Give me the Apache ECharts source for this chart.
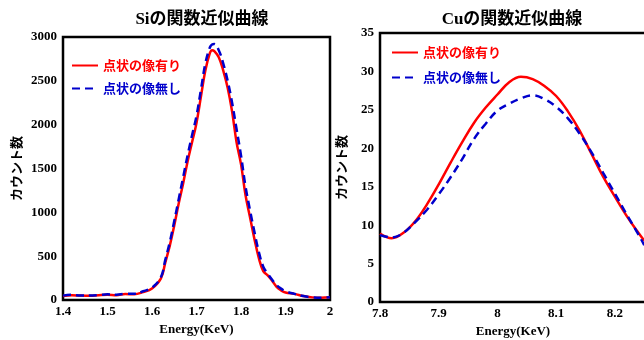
<!DOCTYPE html>
<html>
<head>
<meta charset="utf-8">
<script src="https://cdn.jsdelivr.net/npm/echarts@6/dist/echarts.min.js"></script>
<style>
  html, body { margin: 0; padding: 0; background: #fff; }
  #main { width: 644px; height: 340px; }
</style>
</head>
<body>
<div id="main"></div>
<script type="text/javascript">
// Si のデータ
var siEnergy = [1.40, 1.42, 1.44, 1.46, 1.48, 1.50, 1.52, 1.54, 1.56, 1.58, 1.60, 1.62, 1.63, 1.64, 1.65, 1.66, 1.67, 1.68, 1.69, 1.70,
                1.71, 1.72, 1.73, 1.735, 1.74, 1.75, 1.76, 1.77, 1.78, 1.79, 1.80, 1.81, 1.82, 1.83, 1.84, 1.85, 1.86, 1.87, 1.88, 1.89,
                1.90, 1.92, 1.94, 1.96, 1.98, 2.00];
var siWith    = [45, 55, 50, 48, 55, 60, 55, 68, 65, 90, 130, 245, 430, 620, 850, 1100, 1330, 1580, 1800, 2020,
                 2320, 2620, 2815, 2850, 2840, 2770, 2620, 2420, 2150, 1800, 1550, 1200, 950, 700, 480, 330, 280, 220, 150, 110,
                 85, 70, 45, 30, 25, 30];
var siWithout = [50, 60, 50, 52, 55, 65, 60, 70, 70, 100, 140, 260, 460, 660, 900, 1150, 1400, 1650, 1880, 2100,
                 2400, 2700, 2880, 2915, 2920, 2850, 2700, 2500, 2250, 1950, 1650, 1300, 1030, 780, 550, 380, 300, 230, 170, 130,
                 100, 70, 45, 30, 25, 30];

// Cu のデータ
var cuEnergy  = [7.80, 7.82, 7.84, 7.86, 7.88, 7.90, 7.92, 7.94, 7.96, 7.98, 8.00, 8.02, 8.04, 8.06, 8.08, 8.10, 8.12, 8.14, 8.16, 8.18, 8.20, 8.22, 8.24, 8.25];
var cuWith    = [8.9, 8.3, 9.0, 10.5, 12.7, 15.3, 18.1, 20.8, 23.3, 25.3, 27.0, 28.6, 29.3, 29.0, 28.1, 26.8, 24.8, 22.3, 19.3, 16.3, 13.7, 11.2, 9.0, 8.0];
var cuWithout = [8.7, 8.4, 9.0, 10.4, 12.0, 14.0, 16.2, 18.6, 21.2, 23.2, 24.9, 25.8, 26.5, 26.9, 26.4, 25.4, 23.9, 21.9, 19.5, 16.8, 14.1, 11.4, 8.8, 7.4];

var nameWith = '点状の像有り';
var nameWithout = '点状の像無し';

function pairs(xs, ys) {
    return xs.map(function (x, i) { return [x, ys[i]]; });
}

var serif = '"Liberation Serif", "Noto Sans CJK JP", serif';
var labelStyle = { color: '#000', fontFamily: serif, fontWeight: 'bold', fontSize: 13 };

function xAxisOf(idx, min, max, interval) {
    return {
        type: 'value', gridIndex: idx, min: min, max: max, interval: interval,
        name: 'Energy(KeV)', nameLocation: 'middle', nameGap: 21,
        nameTextStyle: { color: '#000', fontFamily: serif, fontWeight: 'bold', fontSize: 13 },
        axisLine: { show: false }, axisTick: { show: false }, splitLine: { show: false },
        axisLabel: Object.assign({
            margin: 5,
            formatter: function (v) {
                var r = Math.round(v * 10) / 10;
                return Math.abs(r - v) < 1e-6 ? String(r) : '';
            }
        }, labelStyle)
    };
}
function yAxisOf(idx, max, interval, gap) {
    return {
        type: 'value', gridIndex: idx, min: 0, max: max, interval: interval,
        name: 'カウント数', nameLocation: 'middle', nameGap: gap,
        nameTextStyle: { color: '#000', fontFamily: '"Noto Sans CJK JP"', fontWeight: 'bold', fontSize: 13 },
        axisLine: { show: false }, axisTick: { show: false }, splitLine: { show: false },
        axisLabel: Object.assign({ margin: 6, formatter: function (v) { return String(v); } }, labelStyle)
    };
}
function lineOf(name, idx, data, color, dashed) {
    return {
        name: name, type: 'line', xAxisIndex: idx, yAxisIndex: idx,
        data: data, showSymbol: false, symbol: 'none', smooth: 0.4,
        lineStyle: { color: color, width: 2.5, type: dashed ? [8, 5] : 'solid' },
        itemStyle: { color: color }
    };
}
function legendOf(left, top, gap) {
    return {
        left: left, top: top, orient: 'vertical', itemGap: gap,
        itemWidth: 26, itemHeight: 14,
        itemStyle: { opacity: 0 },
        textStyle: { fontFamily: '"Noto Sans CJK JP"', fontWeight: 'bold', fontSize: 13 },
        data: [
            { name: nameWith, textStyle: { color: '#ff0000' } },
            { name: nameWithout, textStyle: { color: '#0000cc' } }
        ]
    };
}

var myChart = echarts.init(document.getElementById('main'), null, { renderer: 'canvas' });
var option = {
    animation: false,
    backgroundColor: '#fff',
    title: [
        { text: 'Siの関数近似曲線', left: 197, top: 6, textAlign: 'center',
          textStyle: { fontFamily: serif, fontWeight: 'bold', fontSize: 17, color: '#000' } },
        { text: 'Cuの関数近似曲線', left: 507, top: 6, textAlign: 'center',
          textStyle: { fontFamily: serif, fontWeight: 'bold', fontSize: 17, color: '#000' } }
    ],
    legend: [legendOf(66, 54, 10), legendOf(386, 41, 12)],
    grid: [
        { left: 63, top: 37, width: 267, height: 263, show: true, borderColor: '#000', borderWidth: 2.5,
          containLabel: false, outerBoundsMode: 'none' },
        { left: 380, top: 33, width: 266, height: 269, show: true, borderColor: '#000', borderWidth: 2.5,
          containLabel: false, outerBoundsMode: 'none' }
    ],
    xAxis: [xAxisOf(0, 1.4, 2.0, 0.1), xAxisOf(1, 7.8, 8.253, 0.1)],
    yAxis: [yAxisOf(0, 3000, 500, 40), yAxisOf(1, 35, 5, 32)],
    series: [
        lineOf(nameWith, 0, pairs(siEnergy, siWith), '#ff0000', false),
        lineOf(nameWithout, 0, pairs(siEnergy, siWithout), '#0000cc', true),
        lineOf(nameWith, 1, pairs(cuEnergy, cuWith), '#ff0000', false),
        lineOf(nameWithout, 1, pairs(cuEnergy, cuWithout), '#0000cc', true)
    ]
};
myChart.setOption(option);
</script>
</body>
</html>
